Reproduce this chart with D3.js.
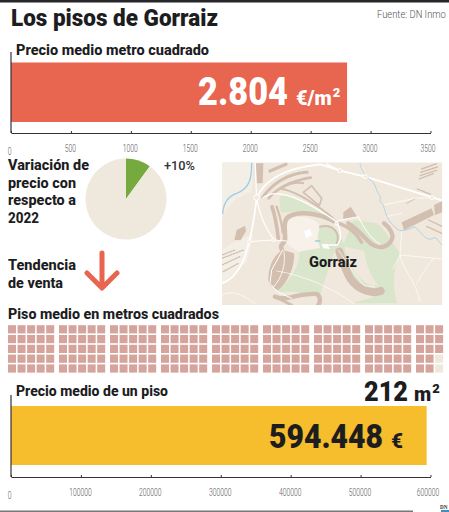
<!DOCTYPE html>
<html>
<head>
<meta charset="utf-8">
<style>
  html, body { margin: 0; padding: 0; background: #fff; }
  svg { display: block; }
  text { font-family: Roboto, sans-serif; }
  .axis text { font-family: Roboto, sans-serif; font-size: 10px; font-weight: 300; fill: #555; }
  .axis path, .axis line { stroke: #333; }
</style>
<script src="https://cdn.jsdelivr.net/npm/d3@7"></script>
</head>
<body>
<svg id="chart" width="449" height="512"></svg>
<script>
// values
var precioM2 = [2804];
var precioM2Ticks = [0, 500, 1000, 1500, 2000, 2500, 3000, 3500];
var precioPiso = [594448];
var precioPisoTicks = [0, 100000, 200000, 300000, 400000, 500000, 600000];
var variacion = [10, 90];
var wafflePainted = 213;   // squares coloured in the picture
var waffleGroups = [5, 5, 5, 5, 5, 5, 5, 5, 3];   // columns per block

var ROJO = "#E8654F", AMARILLO = "#F6BD2C", BEIGE = "#EFE9DD", VERDE = "#76A93E", ROSA = "#D5A59D", TINTA = "#1d1d1f";

var svg = d3.select("#chart");

function label(x, y, str, size, weight, fill, len) {
    var t = svg.append("text")
        .attr("x", x).attr("y", y)
        .attr("font-size", size).attr("font-weight", weight)
        .attr("fill", fill).text(str);
    if (len) t.attr("textLength", len).attr("lengthAdjust", "spacingAndGlyphs");
    return t;
}

// condensed text: squeeze it sideways to the measured width, height stays
function squeezed(x, y, str, size, weight, fill, len) {
    var t = svg.append("text")
        .attr("font-size", size).attr("font-weight", weight)
        .attr("fill", fill).text(str);
    var k = len / t.node().getComputedTextLength();
    t.attr("transform", "translate(" + x + "," + y + ") scale(" + k + ",1)");
    return t;
}

// value + unit + raised 2, written as one text so the parts stay together
function unit(x, y, str, size, sup, fill) {
    var t = label(x, y, str, size, 900, fill);
    t.append("tspan").attr("dy", -8).attr("dx", 1).attr("font-size", sup).text("2");
    return t;
}

// top strip and bottom rule
svg.append("rect").attr("x", 0).attr("y", 0).attr("width", 449).attr("height", 2.5).attr("fill", "#26262a");
svg.append("rect").attr("x", 0).attr("y", 510.5).attr("width", 413).attr("height", 1.5).attr("fill", "#777");

label(11, 26, "Los pisos de Gorraiz", 24, 900, TINTA, 207);
squeezed(377, 18, "Fuente: DN Inmo", 11, 300, "#555", 69);

// horizontal bar with its axis, both charts are built the same way
function barChart(name, values, ticks, yTop, yBar, yBot, yAxis, color) {
    var x = d3.scaleLinear().domain([0, d3.max(ticks)]).range([11, 430.5]);
    var y = d3.scaleBand().domain([name]).range([yBar, yBot]);

    svg.selectAll(null).data(values).enter().append("rect")
        .attr("x", x(0)).attr("y", y(name))
        .attr("width", function(d) { return x(d) - x(0); })
        .attr("height", y.bandwidth())
        .attr("fill", color);

    var g = svg.append("g").attr("class", "axis").attr("transform", "translate(0," + yAxis + ")")
        .call(d3.axisBottom(x).tickValues(ticks).tickSizeInner(-2).tickSizeOuter(0).tickFormat(d3.format("d")));
    g.select(".domain").attr("stroke-width", 1.2);
    g.selectAll("text").attr("y", 11.5).attr("dx", -1)
        .attr("textLength", function(d) { return String(d).length * 3.75; })
        .attr("lengthAdjust", "spacingAndGlyphs");
    g.selectAll(".tick").filter(function(d) { return d === 0; }).select("text").attr("y", 15).attr("dx", -2);
    g.selectAll(".tick").filter(function(d) { return d === d3.max(ticks); }).select("text").attr("dx", -3);

    svg.append("line").attr("x1", 11).attr("x2", 11).attr("y1", yTop).attr("y2", yAxis)
        .attr("stroke", "#333").attr("stroke-width", 1.2);
}

barChart("Precio medio metro cuadrado", precioM2, precioM2Ticks, 52, 62.5, 122, 133, ROJO);
label(16, 55, "Precio medio metro cuadrado", 15, 800, TINTA, 193);
label(198, 105, "2.804", 38, 900, "#fff", 90);
unit(296, 105, "€/m", 20, 13, "#fff");

// variation block
["Variación de", "precio con", "respecto a", "2022"].forEach(function(s, i) {
    label(8, 170 + i * 17.7, s, 15, 800, TINTA, [81, 68, 68, 31][i]);
});
var pie = d3.pie().sort(null).value(function(d) { return d; });
var arc = d3.arc().innerRadius(0).outerRadius(40.5);
svg.append("g").attr("transform", "translate(126,199)")
    .selectAll("path").data(pie(variacion)).enter().append("path")
    .attr("d", arc)
    .attr("fill", function(d, i) { return i === 0 ? VERDE : BEIGE; });
label(164, 170, "+10%", 13, 500, "#333", 31);

// sales trend
label(8, 270, "Tendencia", 15, 800, TINTA, 68);
label(8, 288, "de venta", 15, 800, TINTA, 55);
svg.append("path").attr("d", "M102,253V287M87,273L102,288L117,273")
    .attr("fill", "none").attr("stroke", ROJO).attr("stroke-width", 5)
    .attr("stroke-linecap", "round").attr("stroke-linejoin", "round");

// map, sketched in a 3x grid
var paperMap = svg.append("g").attr("transform", "translate(220,155) scale(0.3333)");
svg.append("defs").append("clipPath").attr("id", "mapClip").append("rect")
    .attr("x", 6).attr("y", 22).attr("width", 661).attr("height", 428);
var m = paperMap.append("g").attr("clip-path", "url(#mapClip)");
m.append("rect").attr("x", 6).attr("y", 22).attr("width", 661).attr("height", 428).attr("fill", "#F1E8DD");

var TAN = "#D2BFB0";
var fills = [
    ["#F4EFE6", "M6,22H100L95,110L50,130L6,180Z"],
    ["#F4EFE6", "M6,285L60,250L100,240L80,320L6,385Z"],
    ["#DAE6CB", "M178,128C195,108 240,130 345,195C300,178 240,165 205,172L182,172Z"],
    ["#DAE6CB", "M170,412C215,370 240,330 238,290L300,280L290,215C320,200 350,215 362,250L372,265L400,195L470,205C500,225 510,260 542,295C520,340 515,390 532,445H400C430,430 480,430 480,405L420,400L345,285L330,330L300,420L215,410Z"],
    ["#F7F1E9", "M205,195C240,175 285,190 300,212L290,255L300,278L235,290L195,262C195,240 190,215 205,195Z"],
    ["#F1E8DD", "M372,275L432,288C436,320 450,360 475,392C440,395 410,365 395,335Z"],
    [TAN, "M145,372C145,330 165,297 188,285L222,295C226,330 205,380 175,406C155,400 145,385 145,372Z"],
    [TAN, "M545,202L635,160L642,180L552,226Z"],
    [TAN, "M642,150L667,138V172L645,180Z"],
    [TAN, "M370,172L392,155L412,186L370,192Z"],
    [TAN, "M108,25H130L128,85H110Z"],
    [TAN, "M43,255L50,225L75,212L78,228L62,256Z"]
];
m.selectAll("path.f").data(fills).enter().append("path").attr("class", "f")
    .attr("fill", function(d) { return d[0]; }).attr("d", function(d) { return d[1]; });

// [colour, width, dash, path]
var strokes = [
    [TAN, 14, null, "M345,200C290,172 235,168 206,185C185,200 198,235 195,255C190,270 178,268 185,282"],
    [TAN, 11, null, "M156,155C168,190 172,225 175,252"],
    [TAN, 7, null, "M170,155C182,190 186,205 188,232"],
    [TAN, 9, "9 1.5", "M128,128C160,78 220,52 262,52"],
    [TAN, 8, "9 1.5", "M146,130C178,92 225,76 272,68"],
    [TAN, 6, "8 2", "M185,100C205,85 235,80 250,85"],
    [TAN, 10, null, "M150,48L198,28"],
    [TAN, 6, "7 2", "M185,102C225,108 285,145 340,190"],
    [TAN, 5, null, "M250,112L275,92L305,130L298,152Z"],
    [TAN, 6, null, "M300,215C340,205 362,235 350,265"],
    [TAN, 24, null, "M358,290C370,325 378,350 392,372C415,405 455,418 482,408"],
    [TAN, 13, null, "M385,205C410,220 430,245 455,268C480,285 512,275 518,245C515,225 505,215 492,205"],
    [TAN, 10, null, "M358,205C385,215 410,235 425,262"],
    [TAN, 13, null, "M165,425C200,440 225,415 290,417C305,425 300,445 292,455"],
    [TAN, 9, null, "M165,425L215,450"],
    [TAN, 4, null, "M605,42L650,26M602,52L652,36M600,62L650,46M598,72L640,56"],
    [TAN, 4, "3 3", "M592,102L632,118"],
    [TAN, 3, null, "M560,145L588,130"],
    [TAN, 4, null, "M625,195L667,214M620,214L667,236"],
    [TAN, 4, "5 4", "M6,310L70,285M6,330L60,305M10,350L55,325M6,300L45,285"],
    ["#fff", 5, null, "M320,28L360,47L435,65L640,128L667,137"],
    ["#fff", 5, null, "M110,130C130,80 190,38 300,28L360,47"],
    ["#fff", 3.5, null, "M105,22C108,60 108,100 110,130C118,180 140,225 162,255"],
    ["#fff", 5, null, "M6,385C60,365 90,300 110,130"],
    ["#fff", 3, null, "M88,260L160,255L200,258"],
    ["#fff", 4, null, "M128,130C150,108 205,100 350,200C362,225 368,250 352,270L310,270"],
    ["#fff", 3, null, "M350,198L415,185C430,215 450,250 480,268"],
    ["#fff", 3, null, "M188,285L155,345L150,385L172,410L215,430"],
    ["#fff", 2.5, null, "M192,290C198,330 185,370 160,396"],
    ["#fff", 2, null, "M355,285L400,352L432,392L464,396"],
    ["#fff", 2, null, "M545,232L540,300L667,312M540,300C545,340 590,380 600,440M640,312C615,340 600,370 590,385M540,300L520,340"],
    ["#fff", 2, null, "M170,348C250,360 340,400 400,445M6,420C50,400 80,430 110,450"],
    ["#fff", 2, null, "M490,150L585,130L640,128M420,25L445,70M500,185L545,175"],
    ["#9CCBE6", 4, null, "M95,25C95,70 90,100 50,115C20,125 10,150 8,175"],
    ["#9CCBE6", 2.2, null, "M420,25C425,50 440,60 445,70C470,85 465,100 475,115C490,130 470,135 490,150C500,190 510,205 525,215C535,235 560,225 585,215C610,240 620,260 640,250C650,240 660,270 667,270"],
    ["#9CCBE6", 5, null, "M287,258H299"]
];
m.selectAll("path.s").data(strokes).enter().append("path").attr("class", "s")
    .attr("fill", "none").attr("stroke-linecap", "round").attr("stroke-linejoin", "round")
    .attr("stroke", function(d) { return d[0]; })
    .attr("stroke-width", function(d) { return d[1]; })
    .attr("stroke-dasharray", function(d) { return d[2]; })
    .attr("d", function(d) { return d[3]; });

// roundabouts
m.selectAll("circle").data([[110, 128, 8], [360, 47, 6], [435, 65, 6], [636, 128, 6], [88, 260, 5], [160, 255, 5], [350, 205, 5]])
    .enter().append("circle")
    .attr("cx", function(d) { return d[0]; }).attr("cy", function(d) { return d[1]; }).attr("r", function(d) { return d[2]; })
    .attr("fill", "#F1E8DD").attr("stroke", "#fff").attr("stroke-width", 3);
// small white buildings
m.append("path").attr("d", "M252,228L270,222L276,240L258,250Z").attr("fill", "#fff");
m.append("path").attr("d", "M305,268L322,268L330,282L310,280Z").attr("fill", "#fff");

label(309, 266.7, "Gorraiz", 14, 800, TINTA, 48);

// waffle of square metres
label(8, 319, "Piso medio en metros cuadrados", 15, 800, TINTA, 211);
var cells = [];
waffleGroups.forEach(function(cols, g) {
    d3.range(cols).forEach(function(c) {
        d3.range(5).forEach(function(r) { cells.push({ g: g, c: c, r: r }); });
    });
});
var xGroup = d3.scaleLinear().domain([0, 1]).range([8, 59]);
var xCol = d3.scaleLinear().domain([0, 1]).range([0, 9.55]);
var yRow = d3.scaleLinear().domain([0, 1]).range([325.2, 335]);
svg.append("g").selectAll("rect").data(cells).enter().append("rect")
    .attr("x", function(d) { return xGroup(d.g) + xCol(d.c); })
    .attr("y", function(d) { return yRow(d.r); })
    .attr("width", 8).attr("height", 8.2)
    .attr("fill", function(d, i) { return i < wafflePainted ? ROSA : BEIGE; });

label(364, 400.5, "212", 27, 900, TINTA, 44);
unit(414, 400.5, "m", 20, 13, TINTA);

barChart("Precio medio de un piso", precioPiso, precioPisoTicks, 395, 406, 465, 477, AMARILLO);
label(16, 396, "Precio medio de un piso", 15, 800, TINTA, 152);
squeezed(269, 448, "594.448", 33, 900, TINTA, 114);
label(391, 448, "€", 20, 900, TINTA, 12);

// paper logo
label(440, 509, "DN", 6, 700, "#333", 7.5).style("font-family", "'Liberation Serif', serif");
svg.append("rect").attr("x", 441).attr("y", 510).attr("width", 8).attr("height", 2).attr("fill", "#3f8fc4");
</script>
</body>
</html>
